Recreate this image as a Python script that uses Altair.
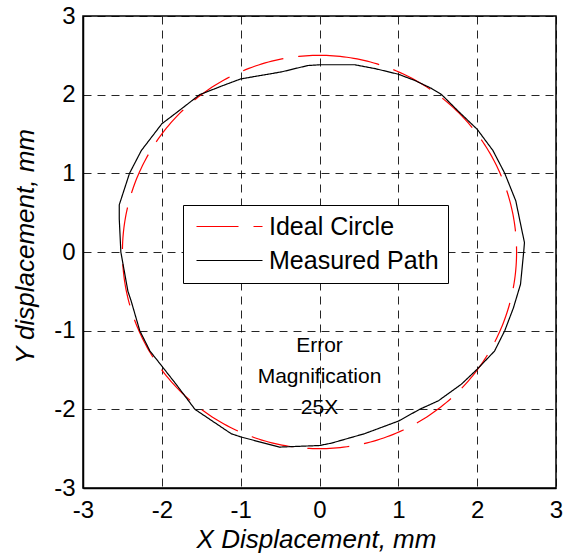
import numpy as np
import pandas as pd
import altair as alt

FONT = "Liberation Sans"

# Ideal reference circle (radius in mm, path starts near the top and runs counter-clockwise)
ideal_radius = 2.5
ideal_start_deg = 84

# Measured tool path (mm), traced counter-clockwise from the right-hand side
meas_x = [2.60, 2.56, 2.49, 2.35, 2.20, 2.00, 1.76, 1.55, 1.42, 1.21, 1.00, 0.71,
          0.45, 0.00, -0.15, -0.48, -1.00, -1.24, -1.52, -1.79, -2.00, -2.26, -2.41,
          -2.54, -2.54, -2.52, -2.43, -2.39, -2.28, -2.15, -2.00, -1.82, -1.58, -1.12,
          -1.00, -0.51, 0.00, 0.15, 0.57, 1.00, 1.27, 1.51, 1.80, 2.00, 2.22, 2.35,
          2.46, 2.55, 2.59, 2.60]
meas_y = [0.12, 0.31, 0.65, 1.00, 1.29, 1.56, 1.79, 2.00, 2.08, 2.18, 2.26, 2.33,
          2.38, 2.38, 2.37, 2.29, 2.20, 2.11, 2.00, 1.79, 1.63, 1.29, 1.00,
          0.60, 0.42, 0.00, -0.50, -0.62, -1.00, -1.26, -1.45, -1.68, -2.00, -2.31,
          -2.35, -2.48, -2.46, -2.43, -2.31, -2.15, -2.00, -1.89, -1.68, -1.49, -1.26, -1.00,
          -0.71, -0.41, 0.00, 0.12]

series_names = ["Ideal Circle", "Measured Path"]
series_colors = ["#ff0000", "#000000"]
series_dash = [[42, 15], [1, 0]]

axis_ticks = [-3, -2, -1, 0, 1, 2, 3]
note_text = "Error\nMagnification\n25X"
note_x, note_y = 0.0, -1.2

theta = np.deg2rad(np.arange(ideal_start_deg, ideal_start_deg + 361, 1))
ideal = pd.DataFrame({
    "x": ideal_radius * np.cos(theta),
    "y": ideal_radius * np.sin(theta),
    "series": series_names[0],
    "order": np.arange(len(theta)),
})
measured = pd.DataFrame({
    "x": meas_x,
    "y": meas_y,
    "series": series_names[1],
    "order": np.arange(len(meas_x)),
})

# Legend key: a 66px horizontal stroke (custom path scaled by sqrt(size)/2 = 11)
legend = alt.Legend(
    orient="none", legendX=100, legendY=189, title=None,
    fillColor="white", strokeColor="black", padding=9, cornerRadius=0,
    symbolType="M-3,0H3", symbolSize=484, symbolStrokeWidth=1.2,
    symbolOffset=25, labelOffset=27, labelLimit=400,
    labelFont=FONT, labelFontSize=25, labelColor="black",
    rowPadding=8,
)

label_expr = "'' + datum.value"

x_axis = alt.Axis(
    values=axis_ticks, grid=True, ticks=False, tickSize=0, labelExpr=label_expr,
    labelFlush=False,
    labelFont=FONT, labelFontSize=24, labelColor="black", labelPadding=10,
    title="X Displacement, mm", titleFont=FONT, titleFontSize=26,
    titleFontStyle="italic", titleFontWeight="normal", titleColor="black",
    titleX=233, titleY=59, titleBaseline="alphabetic", titleAlign="center",
)
y_axis = alt.Axis(
    values=axis_ticks, grid=True, ticks=False, tickSize=0, labelExpr=label_expr,
    labelFlush=False,
    labelFont=FONT, labelFontSize=24, labelColor="black", labelPadding=8,
    title="Y displacement, mm", titleFont=FONT, titleFontSize=26,
    titleFontStyle="italic", titleFontWeight="normal", titleColor="black",
    titleX=-50, titleY=230, titleBaseline="alphabetic", titleAlign="center",
    titleAngle=270,
)

xs = alt.Scale(domain=[-3, 3], nice=False)
ys = alt.Scale(domain=[-3, 3], nice=False)

color_enc = alt.Color("series:N", scale=alt.Scale(domain=series_names, range=series_colors), legend=legend)
dash_enc = alt.StrokeDash("series:N", scale=alt.Scale(domain=series_names, range=series_dash), legend=legend)


def path_layer(df):
    return alt.Chart(df).mark_line(strokeWidth=1.2).encode(
        x=alt.X("x:Q", scale=xs, axis=x_axis),
        y=alt.Y("y:Q", scale=ys, axis=y_axis),
        order="order:Q",
        color=color_enc,
        strokeDash=dash_enc,
    )


note = alt.Chart(pd.DataFrame({"x": [note_x], "y": [note_y], "t": [note_text]})).mark_text(
    font=FONT, fontSize=21, color="black", align="center", baseline="middle",
    lineBreak="\n", lineHeight=31,
).encode(x=alt.X("x:Q", scale=xs), y=alt.Y("y:Q", scale=ys), text="t:N")

chart = alt.layer(path_layer(ideal), path_layer(measured), note).properties(
    width=473, height=472,
    autosize=alt.AutoSizeParams(type="none"),
    padding={"left": 83, "top": 16, "right": 19, "bottom": 65},
    background="white",
).configure_axis(
    domainColor="black", domainWidth=1.5,
    gridColor="black", gridDash=[8, 6], gridWidth=1, gridOpacity=0.85,
).configure_view(
    stroke="black", strokeWidth=1.5,
)

chart.save("out.html", embed_options={"renderer": "svg", "actions": False})
